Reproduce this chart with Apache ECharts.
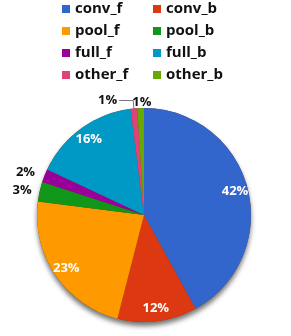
<!DOCTYPE html>
<html>
<head>
<meta charset="utf-8">
<script src="https://cdn.jsdelivr.net/npm/echarts@6/dist/echarts.min.js"></script>
<style>
html,body{margin:0;padding:0;background:#fff;}
#chart{width:291px;height:336px;}
</style>
</head>
<body>
<div id="chart"></div>
<script>
const categories = ['conv_f', 'conv_b', 'pool_f', 'pool_b', 'full_f', 'full_b', 'other_f', 'other_b'];
const values = [42, 12, 23, 3, 2, 16, 1, 1];
const colors = ['#3366CC', '#DC3912', '#FF9900', '#109618', '#990099', '#0099C6', '#DD4477', '#66AA00'];

const FONT = '"Open Sans", sans-serif';
const CENTER = [144, 215];
const R = 107;

// outside label tweaks for the small slices
const outsideCfg = {
  pool_b: { length: 6, length2: 0, show: false },
  full_f: { length: 8, length2: 0, show: false },
  other_f: { length: 8, length2: 14, show: true },
  other_b: { length: 6, length2: -13, show: false }
};

const mainData = categories.map((name, i) => {
  const big = values[i] >= 10;
  const cfg = outsideCfg[name] || { length: 6, length2: 0, show: false };
  return {
    name: name,
    value: values[i],
    itemStyle: { color: colors[i] },
    label: { show: !big },
    labelLine: { show: !big && cfg.show, length: cfg.length, length2: cfg.length2 }
  };
});

const overlayData = categories.map((name, i) => ({
  name: name,
  value: values[i],
  itemStyle: { color: 'rgba(0,0,0,0)' },
  label: { show: values[i] >= 10 }
}));

const total = values.reduce((a, b) => a + b, 0);

const chart = echarts.init(document.getElementById('chart'), null, { renderer: 'canvas' });
chart.setOption({
  animation: false,
  backgroundColor: '#ffffff',
  color: colors,
  legend: {
    data: categories,
    left: 62,
    top: 1,
    width: 180,
    padding: 0,
    orient: 'horizontal',
    icon: 'rect',
    itemWidth: 8,
    itemHeight: 8,
    itemGap: 6,
    selectedMode: false,
    textStyle: {
      fontFamily: FONT,
      fontWeight: 'bold',
      fontSize: 15,
      color: '#111',
      width: 72,
      lineHeight: 16
    }
  },
  series: [
    {
      type: 'pie',
      name: 'shadow',
      silent: true,
      center: CENTER,
      radius: R,
      z: 1,
      label: { show: false },
      labelLine: { show: false },
      itemStyle: {
        color: '#7a3a10',
        shadowColor: 'rgba(0,0,0,0.55)',
        shadowBlur: 5,
        shadowOffsetY: 4
      },
      data: [{ name: '', value: total }],
      legendHoverLink: false
    },
    {
      type: 'pie',
      name: 'main',
      center: CENTER,
      radius: R,
      startAngle: 90,
      clockwise: true,
      z: 2,
      avoidLabelOverlap: false,
      silent: true,
      itemStyle: { borderWidth: 0 },
      label: {
        position: 'outside',
        formatter: p => p.value + '%',
        fontFamily: FONT,
        fontWeight: 'bold',
        fontSize: 13,
        color: '#111',
        distanceToLabelLine: 2
      },
      labelLine: {
        lineStyle: { color: '#777', width: 1 }
      },
      data: mainData
    },
    {
      type: 'pie',
      name: 'labels',
      center: CENTER,
      radius: [75, R],
      startAngle: 90,
      clockwise: true,
      z: 3,
      silent: true,
      avoidLabelOverlap: false,
      legendHoverLink: false,
      label: {
        position: 'inside',
        formatter: p => p.value + '%',
        fontFamily: FONT,
        fontWeight: 'bold',
        fontSize: 13,
        color: '#fff'
      },
      labelLine: { show: false },
      data: overlayData
    }
  ]
});
</script>
</body>
</html>
